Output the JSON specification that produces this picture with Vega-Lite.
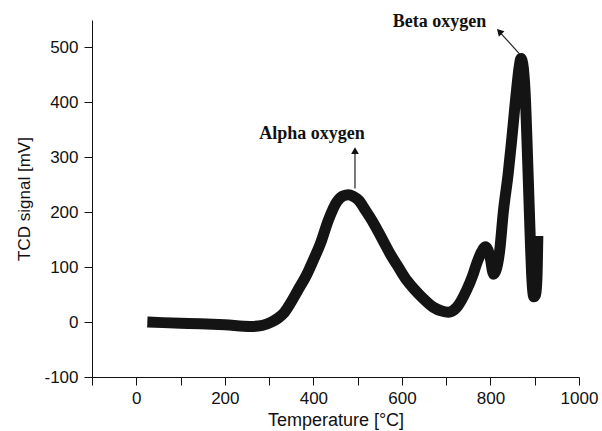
{
  "$schema": "https://vega.github.io/schema/vega-lite/v6.json",
  "autosize": "none",
  "width": 487,
  "height": 357,
  "padding": {"left": 92, "top": 20, "right": 23, "bottom": 54},
  "background": "white",
  "config": {
    "view": {"stroke": null},
    "axis": {
      "grid": false,
      "domainColor": "#111111",
      "tickColor": "#111111",
      "labelColor": "#111111",
      "titleColor": "#111111",
      "labelFont": "Liberation Sans",
      "titleFont": "Liberation Sans",
      "labelFontSize": 17,
      "titleFontSize": 17,
      "titleFontWeight": "normal",
      "tickSize": 8,
      "domainWidth": 1,
      "tickWidth": 1
    }
  },
  "datasets": {
    "tcd": [
      {"t": 25, "s": 0},
      {"t": 60, "s": -1},
      {"t": 100, "s": -2},
      {"t": 145, "s": -3},
      {"t": 200, "s": -5},
      {"t": 258, "s": -8},
      {"t": 285, "s": -6},
      {"t": 305, "s": 0},
      {"t": 320, "s": 7},
      {"t": 335, "s": 18},
      {"t": 348, "s": 34},
      {"t": 365, "s": 58},
      {"t": 386, "s": 88},
      {"t": 400, "s": 113},
      {"t": 416, "s": 143},
      {"t": 434, "s": 186},
      {"t": 453, "s": 219},
      {"t": 468, "s": 230},
      {"t": 479, "s": 232},
      {"t": 490, "s": 229},
      {"t": 502, "s": 222},
      {"t": 518, "s": 203},
      {"t": 536, "s": 180},
      {"t": 555, "s": 152},
      {"t": 573, "s": 125},
      {"t": 592, "s": 100},
      {"t": 611, "s": 76},
      {"t": 630, "s": 58},
      {"t": 648, "s": 43},
      {"t": 671, "s": 27},
      {"t": 690, "s": 20},
      {"t": 705, "s": 18},
      {"t": 724, "s": 27},
      {"t": 746, "s": 58},
      {"t": 760, "s": 85},
      {"t": 769, "s": 107},
      {"t": 780, "s": 128},
      {"t": 788, "s": 137},
      {"t": 794, "s": 132},
      {"t": 799, "s": 119},
      {"t": 807, "s": 87},
      {"t": 814, "s": 98},
      {"t": 821, "s": 131},
      {"t": 829, "s": 200},
      {"t": 840, "s": 270},
      {"t": 848, "s": 332},
      {"t": 859, "s": 423},
      {"t": 865, "s": 465},
      {"t": 869, "s": 480},
      {"t": 873, "s": 470},
      {"t": 878, "s": 423},
      {"t": 885, "s": 271},
      {"t": 890, "s": 150},
      {"t": 893, "s": 88},
      {"t": 898, "s": 46},
      {"t": 902, "s": 50},
      {"t": 905, "s": 80},
      {"t": 907, "s": 157}
    ],
    "arrows": [
      {"x": 494, "y": 243, "x2": 494, "y2": 313},
      {"x": 866, "y": 488, "x2": 822, "y2": 527}
    ],
    "heads": [
      {"x": 494, "y": 312, "angle": 0},
      {"x": 820, "y": 529, "angle": -44}
    ],
    "labels": [
      {"x": 397, "y": 333, "text": "Alpha oxygen"},
      {"x": 685, "y": 538, "text": "Beta oxygen"}
    ]
  },
  "layer": [
    {
      "data": {"name": "tcd"},
      "mark": {"type": "line", "color": "#141414", "strokeWidth": 11, "strokeCap": "butt", "strokeJoin": "round", "interpolate": "monotone", "clip": false},
      "encoding": {
        "x": {
          "field": "t", "type": "quantitative",
          "scale": {"domain": [-100, 1000], "nice": false, "zero": false},
          "axis": {
            "title": "Temperature [°C]",
            "titleFontSize": 18,
            "values": [-100, 0, 100, 200, 300, 400, 500, 600, 700, 800, 900, 1000],
            "labelExpr": "datum.value % 200 === 0 ? '' + datum.value : ''",
            "labelPadding": 5,
            "titlePadding": 5,
            "labelFlush": false
          }
        },
        "y": {
          "field": "s", "type": "quantitative",
          "scale": {"domain": [-100, 550], "nice": false, "zero": false},
          "axis": {
            "title": "TCD signal [mV]",
            "values": [-100, -50, 0, 50, 100, 150, 200, 250, 300, 350, 400, 450, 500, 550],
            "labelExpr": "datum.value % 100 === 0 ? '' + datum.value : ''",
            "labelPadding": 6,
            "titlePadding": 10,
            "labelFlush": false
          }
        }
      }
    },
    {
      "data": {"name": "arrows"},
      "mark": {"type": "rule", "color": "#222222", "strokeWidth": 1.2},
      "encoding": {
        "x": {"field": "x", "type": "quantitative"},
        "y": {"field": "y", "type": "quantitative"},
        "x2": {"field": "x2"},
        "y2": {"field": "y2"}
      }
    },
    {
      "data": {"name": "heads"},
      "mark": {"type": "point", "shape": "triangle-up", "filled": true, "color": "#111111", "size": 60, "opacity": 1},
      "encoding": {
        "x": {"field": "x", "type": "quantitative"},
        "y": {"field": "y", "type": "quantitative"},
        "angle": {"field": "angle", "type": "quantitative", "scale": null}
      }
    },
    {
      "data": {"name": "labels"},
      "mark": {"type": "text", "font": "Liberation Serif", "fontWeight": "bold", "fontSize": 18, "color": "#111111", "baseline": "alphabetic", "align": "center"},
      "encoding": {
        "x": {"field": "x", "type": "quantitative"},
        "y": {"field": "y", "type": "quantitative"},
        "text": {"field": "text"}
      }
    }
  ]
}
